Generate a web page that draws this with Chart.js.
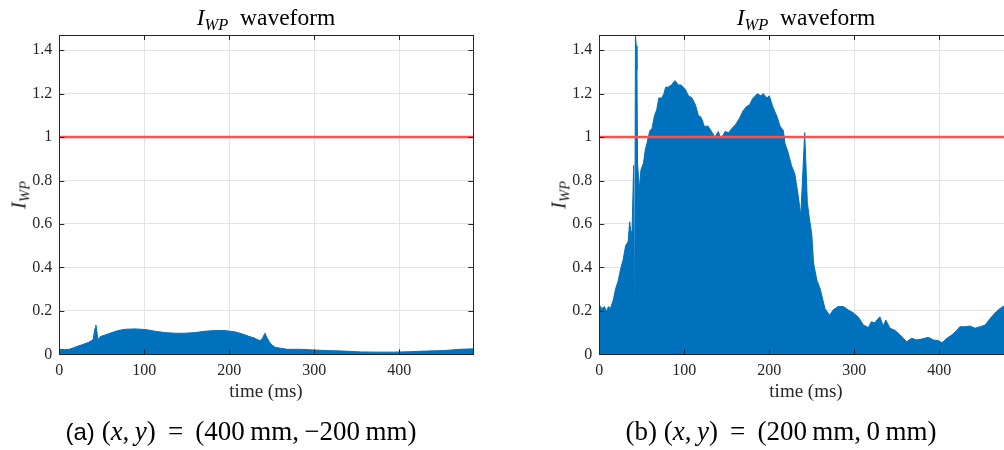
<!DOCTYPE html>
<html lang="en">
<head>
    <meta charset="UTF-8" />
    <title>I_WP waveform</title>
    <script src="https://cdn.jsdelivr.net/npm/chart.js"></script>
    <style>
        html, body {
            margin: 0;
            padding: 0;
            width: 1004px;
            height: 450px;
            overflow: hidden;
            background: #fff;
            font-family: 'Liberation Serif', serif;
            color: #262626;
        }
        .panel { position: absolute; top: 0; width: 500px; height: 450px; }
        .txt { position: absolute; white-space: nowrap; line-height: 1; transform: translateX(-50%); }
        .title { font-size: 23.5px; top: 6px; color: #000; }
        .xlab { font-size: 19px; top: 381px; }
        .ylab { font-size: 21px; transform: translate(-50%, -50%) rotate(-90deg); }
        .cap { font-size: 27px; top: 418px; color: #000; }
        .cap .tag { font-family: 'Liberation Sans', sans-serif; font-size: 24px; }
        sub { font-size: 0.7em; vertical-align: -0.3em; line-height: 0; }
    </style>
</head>
<body>
    <div class="panel" style="left:0"><canvas id="chartA" width="500" height="450"></canvas></div>
    <div class="panel" style="left:540px"><canvas id="chartB" width="500" height="450"></canvas></div>

    <div class="txt title" style="left:266px"><i>I</i><sub><i>WP</i></sub>&nbsp; waveform</div>
    <div class="txt title" style="left:806px"><i>I</i><sub><i>WP</i></sub>&nbsp; waveform</div>
    <div class="txt ylab" style="left:19px; top:195px"><i>I</i><sub><i>WP</i></sub></div>
    <div class="txt ylab" style="left:559px; top:195px"><i>I</i><sub><i>WP</i></sub></div>
    <div class="txt xlab" style="left:266px">time (ms)</div>
    <div class="txt xlab" style="left:806px">time (ms)</div>
    <div class="txt cap" style="left:241px"><span class="tag">(a)</span> (<i>x</i>,&thinsp;<i>y</i>)&thinsp; = &thinsp;(400&thinsp;mm,&thinsp;&minus;200&thinsp;mm)</div>
    <div class="txt cap" style="left:781px">(b) (<i>x</i>,&thinsp;<i>y</i>)&thinsp; = &thinsp;(200&thinsp;mm,&thinsp;0&thinsp;mm)</div>

    <script>
        // time axis (ms) and I_WP values
        const timeA = [0, 6, 12, 18, 26, 34, 38, 40, 41, 42, 43, 44, 45, 46, 48, 54, 62, 69, 77, 89,
            101, 113, 124, 136, 148, 160, 171, 183, 195, 207, 215, 222, 230, 236, 239, 241, 242, 244, 247, 250,
            254, 260, 268, 283, 299, 315, 334, 354, 373, 393, 413, 432, 452, 471, 487];
        const iwpA = [0.023, 0.022, 0.023, 0.032, 0.043, 0.054, 0.063, 0.07, 0.097, 0.12, 0.135, 0.112, 0.08, 0.066, 0.081, 0.089, 0.100, 0.109, 0.115, 0.117,
            0.114, 0.106, 0.100, 0.097, 0.097, 0.100, 0.106, 0.109, 0.109, 0.103, 0.094, 0.084, 0.074, 0.062, 0.074, 0.09, 0.097, 0.078, 0.058, 0.043,
            0.032, 0.028, 0.023, 0.023, 0.020, 0.017, 0.015, 0.011, 0.010, 0.010, 0.012, 0.015, 0.017, 0.023, 0.025];

        const timeB = [0, 3, 6, 8.7, 10.6, 13, 16.5, 19, 22, 25.5, 28, 31, 34, 35.7, 37, 38.5, 40.4, 41.5, 42.5, 43.5,
            44.3, 45, 47, 49, 52, 54, 56, 57.6, 59.6, 62, 65, 67.5, 70, 73.4, 76, 78, 81, 85, 89, 93,
            96, 101, 105, 109, 113, 116.5, 120, 123.5, 128, 132, 136, 140, 143, 148, 152, 156, 160, 165, 169, 173,
            177, 180, 186, 190, 193, 197, 200, 204, 209, 212.6, 216.5, 218.5, 222, 226, 230, 234, 237, 239, 241.6, 243,
            244.7, 247, 250, 252, 256, 260, 263, 265.5, 271, 275, 281, 287, 293, 299, 305, 310.6, 316.5, 320, 324, 330,
            334, 337, 342, 348, 354, 357.6, 361.6, 367.5, 373, 379, 387, 393, 399, 403, 409, 414.6, 420.5, 424, 430, 436,
            442, 448, 454, 460, 465.5, 471, 475, 481, 487];
        const iwpB = [0.227, 0.21, 0.22, 0.196, 0.22, 0.21, 0.25, 0.30, 0.335, 0.40, 0.435, 0.50, 0.52, 0.61, 0.57, 0.56, 0.87, 0.02, 1.47, 1.42,
            1.31, 0.88, 0.76, 0.85, 0.88, 0.94, 0.97, 1.00, 1.03, 1.04, 1.10, 1.125, 1.18, 1.18, 1.20, 1.23, 1.23, 1.24, 1.26, 1.24,
            1.24, 1.22, 1.19, 1.18, 1.15, 1.10, 1.09, 1.05, 1.05, 1.026, 1.00, 1.026, 0.99, 1.026, 1.02, 1.04, 1.056, 1.087, 1.12, 1.14,
            1.15, 1.175, 1.20, 1.19, 1.20, 1.18, 1.19, 1.14, 1.095, 1.05, 1.03, 0.97, 0.93, 0.87, 0.83, 0.73, 0.64, 0.80, 1.02, 0.88,
            0.70, 0.63, 0.55, 0.42, 0.34, 0.30, 0.25, 0.21, 0.18, 0.204, 0.22, 0.22, 0.204, 0.19, 0.17, 0.135, 0.123, 0.15, 0.145, 0.173,
            0.13, 0.158, 0.12, 0.11, 0.089, 0.074, 0.058, 0.074, 0.066, 0.07, 0.078, 0.066, 0.063, 0.053, 0.074, 0.089, 0.11, 0.127, 0.127, 0.13,
            0.12, 0.127, 0.135, 0.166, 0.19, 0.21, 0.22, 0.23, 0.24];

        const limitTime = [0, 487];
        const limitLevel = [1, 1];
        const xTicks = [0, 100, 200, 300, 400];
        const yTicks = [0, 0.2, 0.4, 0.6, 0.8, 1, 1.2, 1.4];
        const xMax = 487;
        const yMax = 1.47;

        Chart.defaults.font.family = "'Liberation Serif', serif";
        Chart.defaults.color = '#262626';

        // MATLAB-like box with inward ticks
        const boxPlugin = {
            id: 'box',
            afterDatasetsDraw(chart) {
                const { ctx, chartArea: a, scales } = chart;
                ctx.save();
                ctx.strokeStyle = '#262626';
                ctx.lineWidth = 1;
                ctx.beginPath();
                xTicks.forEach(v => {
                    const px = Math.round(scales.x.getPixelForValue(v)) + 0.5;
                    ctx.moveTo(px, a.bottom); ctx.lineTo(px, a.bottom - 5);
                    ctx.moveTo(px, a.top); ctx.lineTo(px, a.top + 5);
                });
                yTicks.forEach(v => {
                    const py = Math.round(scales.y.getPixelForValue(v)) + 0.5;
                    ctx.moveTo(a.left, py); ctx.lineTo(a.left + 5, py);
                    ctx.moveTo(a.right, py); ctx.lineTo(a.right - 5, py);
                });
                ctx.stroke();
                ctx.strokeRect(Math.round(a.left) + 0.5, Math.round(a.top) + 0.5,
                    Math.round(a.right - a.left), Math.round(a.bottom - a.top));
                ctx.restore();
            }
        };

        function makeChart(id, times, values) {
            const points = times.map((t, i) => ({ x: t, y: values[i] }));
            const limit = limitTime.map((t, i) => ({ x: t, y: limitLevel[i] }));
            return new Chart(document.getElementById(id), {
                type: 'line',
                data: {
                    datasets: [
                        {
                            data: limit,
                            borderColor: '#ff4f4f',
                            borderWidth: 2.5,
                            pointRadius: 0,
                            fill: false,
                            order: 0
                        },
                        {
                            data: points,
                            borderColor: '#0072bd',
                            backgroundColor: '#0072bd',
                            borderWidth: 1,
                            pointRadius: 0,
                            tension: 0,
                            fill: 'origin',
                            order: 1
                        }
                    ]
                },
                options: {
                    responsive: false,
                    animation: false,
                    layout: { padding: { left: 0, top: 35, right: 26.7, bottom: 0 } },
                    plugins: { legend: { display: false }, tooltip: { enabled: false } },
                    scales: {
                        x: {
                            type: 'linear',
                            min: 0,
                            max: xMax,
                            afterFit: s => { s.height = 95.7; },
                            border: { display: false },
                            grid: { color: '#e3e3e3', drawTicks: false },
                            ticks: { stepSize: 100, includeBounds: false, padding: 7, maxRotation: 0, font: { size: 16 } }
                        },
                        y: {
                            type: 'linear',
                            min: 0,
                            max: yMax,
                            afterFit: s => { s.width = 59.3; },
                            border: { display: false },
                            grid: { color: '#e3e3e3', drawTicks: false },
                            ticks: {
                                stepSize: 0.2, includeBounds: false, padding: 7, font: { size: 16 },
                                callback: v => String(+v.toFixed(2))
                            }
                        }
                    }
                },
                plugins: [boxPlugin]
            });
        }

        makeChart('chartA', timeA, iwpA);
        makeChart('chartB', timeB, iwpB);
    </script>
</body>
</html>
